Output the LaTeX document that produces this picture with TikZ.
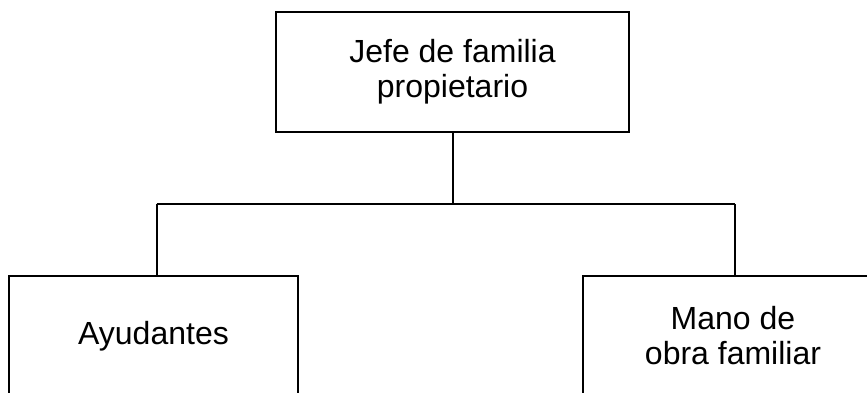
\documentclass[tikz,border=0pt]{standalone}
\usepackage{fontspec}
\setmainfont{Liberation Sans}
\begin{document}
\begin{tikzpicture}[x=0.5pt,y=-0.5pt,
  box/.style={draw=black,line width=1pt,rectangle,inner sep=0pt,
    font=\fontsize{16pt}{17.5pt}\selectfont,align=center},
  conn/.style={draw=black,line width=1pt}]
\useasboundingbox (0,0) rectangle (867,392);
\clip (0,0) rectangle (867,392);
\fill[white] (0,0) rectangle (867,392);
\node[box,minimum width=176.5pt,minimum height=60pt] (top) at (452.5,72) {Jefe de familia\\propietario};
\node[box,minimum width=144.5pt,minimum height=60pt] (left) at (153.5,336) {Ayudantes};
\node[box,minimum width=150pt,minimum height=60pt] (right) at (733,336) {Mano de\\obra familiar};
\coordinate (j) at (452.5,204);
\coordinate (hl) at (156.5,204);
\coordinate (hr) at (735,204);
\draw[conn] (top.south) -- (j);
\draw[conn] (hl) -- (hr);
\draw[conn] (hl) -- (hl |- left.north);
\draw[conn] (hr) -- (hr |- right.north);
\end{tikzpicture}
\end{document}
